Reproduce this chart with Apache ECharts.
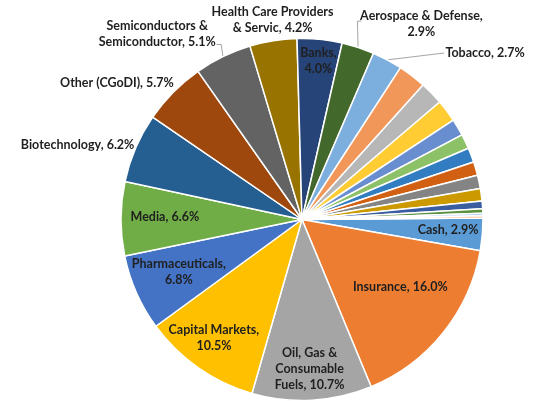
<!DOCTYPE html>
<html>
<head>
<meta charset="utf-8">
<script src="https://cdn.jsdelivr.net/npm/echarts@6/dist/echarts.min.js"></script>
<style>
html,body{margin:0;padding:0;background:#fff;}
#chart{width:539px;height:401px;}
</style>
</head>
<body>
<div id="chart"></div>
<script>
// ---- data ----
const categories = [
  'Cash', 'Insurance', 'Oil, Gas & Consumable Fuels', 'Capital Markets', 'Pharmaceuticals',
  'Media', 'Biotechnology', 'Other (CGoDI)', 'Semiconductors & Semiconductor',
  'Health Care Providers & Servic', 'Banks', 'Aerospace & Defense', 'Tobacco',
  'Unlabeled 1', 'Unlabeled 2', 'Unlabeled 3', 'Unlabeled 4', 'Unlabeled 5', 'Unlabeled 6',
  'Unlabeled 7', 'Unlabeled 8', 'Unlabeled 9', 'Unlabeled 10', 'Unlabeled 11', 'Unlabeled 12', 'Unlabeled 13'
];
const weights = [
  2.9, 16.0, 10.7, 10.5, 6.8, 6.6, 6.2, 5.7, 5.1, 4.2, 4.0, 2.9, 2.7,
  2.5, 2.1, 2.0, 1.5, 1.3, 1.3, 1.2, 1.2, 1.1, 0.7, 0.4, 0.2, 0.2
];
// label text templates ({v} = value); null = no label
const labelTemplates = [
  'Cash, {v}', 'Insurance, {v}', 'Oil, Gas &\nConsumable\nFuels, {v}', 'Capital Markets,\n{v}',
  'Pharmaceuticals,\n{v}', 'Media, {v}', 'Biotechnology, {v}', 'Other (CGoDI), {v}',
  'Semiconductors &\nSemiconductor, {v}', 'Health Care Providers\n& Servic, {v}', 'Banks,\n{v}',
  'Aerospace & Defense,\n{v}', 'Tobacco, {v}'
];
const sliceColors = [
  '#5B9BD5', '#ED7D31', '#A5A5A5', '#FFC000', '#4472C4', '#70AD47', '#255E91', '#9E480E',
  '#636363', '#997300', '#264478', '#43682B', '#7CAFDD', '#F1975A', '#B7B7B7', '#FFCD33',
  '#698ED0', '#8CC168', '#327DC2', '#D26012', '#848484', '#CC9A00', '#3A5DA0', '#5D9140',
  '#9DC3E6', '#F4B183'
];

// ---- layout (styling) ----
const CX = 302, CY = 219.5, R = 181, START = 0.5;
// label placement: k = radial factor, da = angle delta from slice mid (deg), line = leader pts rel. to label centre
const labelPlace = [
  {k: 0.809, da: 0.8},
  {k: 0.66, da: 4.1},
  {k: 0.828, da: -0.3},
  {k: 0.817, da: -1.6},
  {k: 0.74, da: -0.7},
  {k: 0.758, da: -1.0},
  {k: 1.306, da: 4.96},
  {k: 1.27, da: 8.3},
  {k: 1.30, da: 12.1, line: [[64, 10.5], [59.5, 10.5]]},
  {k: 1.114, da: -0.74},
  {k: 0.881, da: -0.3},
  {k: 1.265, da: -13.4, line: [[-64, -3], [-60, -3]]},
  {k: 1.367, da: -19.6, line: [[-41, 0]]}
];

const total = weights.reduce((a, b) => a + b, 0);
const mids = [];
let acc = 0;
weights.forEach(w => {
  const a0 = START - acc / total * 360;
  acc += w;
  const a1 = START - acc / total * 360;
  mids.push((a0 + a1) / 2);
});

const data = categories.map((name, i) => {
  const tpl = labelTemplates[i];
  const place = labelPlace[i];
  return {
    name: name,
    value: weights[i],
    itemStyle: {color: sliceColors[i]},
    label: tpl ? {show: true, formatter: tpl.replace('{v}', weights[i].toFixed(1) + '%')} : {show: false},
    labelLine: {show: !!(place && place.line)}
  };
});

const chart = echarts.init(document.getElementById('chart'), null, {renderer: 'canvas'});
chart.setOption({
  animation: false,
  backgroundColor: '#ffffff',
  series: [{
    type: 'pie',
    center: [CX, CY],
    radius: [0, R],
    startAngle: START,
    clockwise: true,
    avoidLabelOverlap: false,
    data: data,
    itemStyle: {borderColor: '#ffffff', borderWidth: 1.5},
    label: {
      position: 'outside',
      fontFamily: 'Lato',
      fontWeight: 'bold',
      fontSize: 12.5,
      lineHeight: 16,
      color: '#1f1f1f',
      align: 'center',
      verticalAlign: 'middle'
    },
    labelLine: {lineStyle: {color: '#A6A6A6', width: 1}, length: 5, length2: 5},
    emphasis: {disabled: true},
    labelLayout: function (p) {
      const i = p.dataIndex;
      const pl = labelPlace[i];
      if (!pl) return {};
      const th = (mids[i] + pl.da) * Math.PI / 180;
      const x = CX + R * pl.k * Math.cos(th);
      const y = CY - R * pl.k * Math.sin(th);
      const out = {x: x, y: y, align: 'center', verticalAlign: 'middle'};
      if (pl.line) {
        const tm = mids[i] * Math.PI / 180;
        const rim = [CX + R * Math.cos(tm), CY - R * Math.sin(tm)];
        out.labelLinePoints = [rim].concat(pl.line.map(d => [x + d[0], y + d[1]]));
      }
      return out;
    }
  }]
});
</script>
</body>
</html>
